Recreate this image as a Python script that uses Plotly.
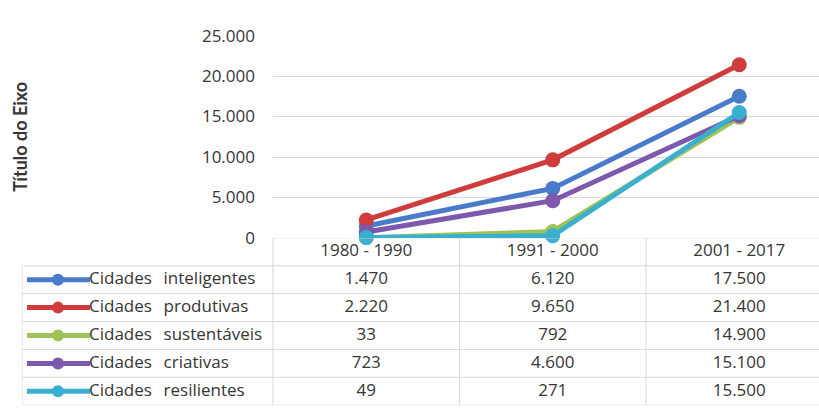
import plotly.graph_objects as go

# ---------------- data ----------------
categories = ["1980 - 1990", "1991 - 2000", "2001 - 2017"]
series_names = ["Cidades inteligentes", "Cidades produtivas", "Cidades sustentáveis",
                "Cidades criativas", "Cidades resilientes"]
inteligentes = [1470, 6120, 17500]
produtivas = [2220, 9650, 21400]
sustentaveis = [33, 792, 14900]
criativas = [723, 4600, 15100]
resilientes = [49, 271, 15500]
y_ticks = [0, 5000, 10000, 15000, 20000, 25000]
axis_title = "Título do Eixo"

series_values = [inteligentes, produtivas, sustentaveis, criativas, resilientes]
colors = ["#4A7BCB", "#D03B3B", "#9DC25A", "#7E58AC", "#3AAFCF"]

# ---------------- layout geometry (pixels) ----------------
W, H = 819, 420
plot_left, plot_right = 273, 819
plot_top, plot_bottom = 25, 239
col_w = 186.5
table_left = 22
row_h = 29.5
n_rows = len(series_names) + 1
table_bottom = plot_bottom + n_rows * row_h

FONT = "'Open Sans', Lato, sans-serif"
TXT = "#363636"
GRID = "#D9D9D9"
FS = 17

x_end = -0.5 + (plot_right - plot_left) / col_w
x2_start = -0.5 - (plot_left - table_left) / col_w


def u(px):
    """pixel x -> table axis units"""
    return x2_start + (px - table_left) / col_w


def fmt(v):
    return f"{v:,}".replace(",", ".")


fig = go.Figure()

# chart lines
for name, vals, c in zip(series_names, series_values, colors):
    fig.add_trace(go.Scatter(
        x=categories, y=vals, name=name, mode="lines+markers",
        line=dict(color=c, width=5), marker=dict(color=c, size=15),
        cliponaxis=False, xaxis="x", yaxis="y", showlegend=False))

# table header
fig.add_trace(go.Scatter(
    x=list(range(len(categories))), y=[0] * len(categories), text=categories,
    mode="text", textfont=dict(family=FONT, size=FS, color=TXT),
    xaxis="x2", yaxis="y2", showlegend=False, hoverinfo="skip"))

# table cells + legend keys
for r, (name, vals, c) in enumerate(zip(series_names, series_values, colors), start=1):
    fig.add_trace(go.Scatter(
        x=list(range(len(vals))), y=[r] * len(vals), text=[fmt(v) for v in vals],
        mode="text", textfont=dict(family=FONT, size=FS, color=TXT),
        xaxis="x2", yaxis="y2", showlegend=False, hoverinfo="skip"))
    fig.add_trace(go.Scatter(
        x=[u(27), u(90)], y=[r, r], mode="lines", line=dict(color=c, width=5),
        xaxis="x2", yaxis="y2", showlegend=False, hoverinfo="skip", cliponaxis=False))
    fig.add_trace(go.Scatter(
        x=[u(58)], y=[r], mode="markers", marker=dict(color=c, size=12),
        xaxis="x2", yaxis="y2", showlegend=False, hoverinfo="skip", cliponaxis=False))
    fig.add_trace(go.Scatter(
        x=[u(89)], y=[r], mode="text", text=[name.replace(" ", "\u00a0\u00a0\u2009", 1)],
        textposition="middle right", textfont=dict(family=FONT, size=FS, color=TXT),
        xaxis="x2", yaxis="y2", showlegend=False, hoverinfo="skip", cliponaxis=False))

# table borders
shapes = []
line = dict(color=GRID, width=1)
for b in range(1, n_rows + 1):
    yb = b - 0.5
    shapes.append(dict(type="line", xref="x2", yref="y2", x0=x2_start, x1=x_end,
                       y0=yb, y1=yb, line=line, layer="below"))
shapes.append(dict(type="line", xref="x2", yref="y2", x0=-0.5, x1=x_end,
                   y0=-0.5, y1=-0.5, line=line, layer="below"))
for k in range(len(categories)):
    xb = k - 0.5
    shapes.append(dict(type="line", xref="x2", yref="y2", x0=xb, x1=xb,
                       y0=-0.5, y1=n_rows - 0.5, line=line, layer="below"))
shapes.append(dict(type="line", xref="x2", yref="y2", x0=x2_start, x1=x2_start,
                   y0=0.5, y1=n_rows - 0.5, line=line, layer="below"))

fig.update_layout(
    width=W, height=H, autosize=False,
    margin=dict(l=0, r=0, t=0, b=0),
    paper_bgcolor="white", plot_bgcolor="white",
    separators=",.",
    font=dict(family=FONT, size=FS, color=TXT),
    xaxis=dict(domain=[plot_left / W, 1], range=[-0.5, x_end], type="category",
               showticklabels=False, showgrid=False, zeroline=False, showline=False,
               fixedrange=True),
    yaxis=dict(domain=[(H - plot_bottom) / H, (H - plot_top) / H], range=[0, 25000],
               tickvals=y_ticks, tickformat=",d", showgrid=True, gridcolor=GRID,
               gridwidth=1, zeroline=False, showline=False, ticks="",
               ticklabelstandoff=17, tickfont=dict(family=FONT, size=FS, color=TXT)),
    xaxis2=dict(domain=[table_left / W, 1], range=[x2_start, x_end], visible=False,
                anchor="y2"),
    yaxis2=dict(domain=[(H - table_bottom) / H, (H - plot_bottom) / H],
                range=[n_rows - 0.5, -0.5], visible=False, anchor="x2"),
    shapes=shapes,
    annotations=[dict(text=f"<b>{axis_title}</b>", xref="paper", yref="paper",
                      x=20 / W, y=(H - (plot_top + plot_bottom) / 2) / H,
                      textangle=-90, showarrow=False, xanchor="center", yanchor="middle",
                      font=dict(family="Lato, sans-serif", size=18, color=TXT))],
)

fig.write_html("out.html")
